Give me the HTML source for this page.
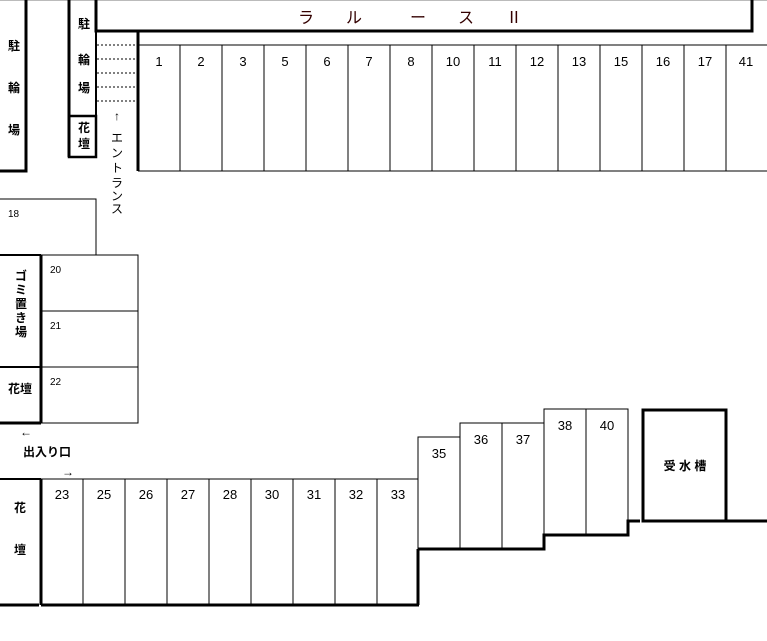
<!DOCTYPE html>
<html><head><meta charset="utf-8"><style>
body{margin:0;background:#fff}
svg{display:block}
text{font-family:"Liberation Sans","Noto Sans CJK JP",sans-serif;fill:#000}
.j{font-family:"Noto Sans CJK JP",sans-serif;font-weight:bold;fill:#300}
</style></head><body>
<svg width="767" height="641" viewBox="0 0 767 641" xmlns="http://www.w3.org/2000/svg">
<line x1="0" y1="0.5" x2="767" y2="0.5" stroke="#bbb"/>
<g stroke="#000" fill="none">
<!-- building bar -->
<path d="M96 0V31H752V0" stroke-width="3"/>
<!-- top stalls -->
<line x1="138" y1="31" x2="138" y2="171" stroke-width="3"/>
<line x1="138" y1="45" x2="767" y2="45"/>
<line x1="138" y1="171" x2="767" y2="171"/>
<g>
<line x1="180" y1="45" x2="180" y2="171"/><line x1="222" y1="45" x2="222" y2="171"/>
<line x1="264" y1="45" x2="264" y2="171"/><line x1="306" y1="45" x2="306" y2="171"/>
<line x1="348" y1="45" x2="348" y2="171"/><line x1="390" y1="45" x2="390" y2="171"/>
<line x1="432" y1="45" x2="432" y2="171"/><line x1="474" y1="45" x2="474" y2="171"/>
<line x1="516" y1="45" x2="516" y2="171"/><line x1="558" y1="45" x2="558" y2="171"/>
<line x1="600" y1="45" x2="600" y2="171"/><line x1="642" y1="45" x2="642" y2="171"/>
<line x1="684" y1="45" x2="684" y2="171"/><line x1="726" y1="45" x2="726" y2="171"/>
</g>
<!-- left bike parking -->
<path d="M26 0V171H0" stroke-width="3"/>
<!-- second bike parking -->
<line x1="69" y1="0" x2="69" y2="157" stroke-width="3"/>
<line x1="96" y1="31" x2="96" y2="115" stroke-width="2"/>
<rect x="69" y="116" width="27" height="41" stroke-width="2.5"/>
<g stroke-dasharray="2,2">
<line x1="97" y1="45" x2="136" y2="45"/><line x1="97" y1="59" x2="136" y2="59"/>
<line x1="97" y1="73" x2="136" y2="73"/><line x1="97" y1="87" x2="136" y2="87"/>
<line x1="97" y1="101" x2="136" y2="101"/>
</g>
<!-- 18 -->
<path d="M0 199H96V255"/>
<!-- 20-22 -->
<rect x="41" y="255" width="97" height="168"/>
<line x1="41" y1="311" x2="138" y2="311"/><line x1="41" y1="367" x2="138" y2="367"/>
<line x1="41" y1="255" x2="41" y2="423" stroke-width="3"/>
<line x1="0" y1="255" x2="41" y2="255" stroke-width="2"/>
<line x1="0" y1="367" x2="41" y2="367" stroke-width="2"/>
<line x1="0" y1="423" x2="41" y2="423" stroke-width="3"/>
<!-- bottom row -->
<line x1="0" y1="479" x2="41" y2="479" stroke-width="2"/>
<line x1="41" y1="479" x2="418" y2="479"/>
<line x1="41" y1="479" x2="41" y2="605" stroke-width="3"/>
<line x1="0" y1="605" x2="39" y2="605" stroke-width="3"/>
<line x1="41" y1="605" x2="419" y2="605" stroke-width="3"/>
<line x1="83" y1="479" x2="83" y2="605"/><line x1="125" y1="479" x2="125" y2="605"/>
<line x1="167" y1="479" x2="167" y2="605"/><line x1="209" y1="479" x2="209" y2="605"/>
<line x1="251" y1="479" x2="251" y2="605"/><line x1="293" y1="479" x2="293" y2="605"/>
<line x1="335" y1="479" x2="335" y2="605"/><line x1="377" y1="479" x2="377" y2="605"/>
<line x1="418" y1="549" x2="418" y2="605" stroke-width="3"/>
<!-- stepped stalls -->
<path d="M418 549V437H460V423H544V409H628V521"/>
<line x1="460" y1="437" x2="460" y2="549"/><line x1="502" y1="423" x2="502" y2="549"/>
<line x1="544" y1="423" x2="544" y2="535"/><line x1="586" y1="409" x2="586" y2="535"/>
<path d="M418 549H544V535H628V521H640" stroke-width="3"/>
<rect x="643" y="410" width="83" height="111" stroke-width="3"/>
<line x1="726" y1="521" x2="767" y2="521" stroke-width="3"/>
</g>
<text class="j" x="410" y="23" font-size="16" text-anchor="middle" style="font-weight:normal">ラ　　ル　　　ー　　ス　　Ⅱ</text>
<g font-size="13" text-anchor="middle">
<text x="159" y="66">1</text><text x="201" y="66">2</text><text x="243" y="66">3</text>
<text x="285" y="66">5</text><text x="327" y="66">6</text><text x="369" y="66">7</text>
<text x="411" y="66">8</text><text x="453" y="66">10</text><text x="495" y="66">11</text>
<text x="537" y="66">12</text><text x="579" y="66">13</text><text x="621" y="66">15</text>
<text x="663" y="66">16</text><text x="705" y="66">17</text><text x="746" y="66">41</text>
<text x="62" y="499">23</text><text x="104" y="499">25</text><text x="146" y="499">26</text>
<text x="188" y="499">27</text><text x="230" y="499">28</text><text x="272" y="499">30</text>
<text x="314" y="499">31</text><text x="356" y="499">32</text><text x="398" y="499">33</text>
<text x="439" y="458">35</text><text x="481" y="444">36</text><text x="523" y="444">37</text>
<text x="565" y="430">38</text><text x="607" y="430">40</text>
</g>
<g font-size="10">
<text x="8" y="217">18</text><text x="50" y="273">20</text>
<text x="50" y="329">21</text><text x="50" y="385">22</text>
</g>
<g class="j" font-size="12" text-anchor="middle">
<text x="14" y="50">駐</text><text x="14" y="92">輪</text><text x="14" y="134">場</text>
<text x="84" y="28">駐</text><text x="84" y="64">輪</text><text x="84" y="92">場</text>
<text x="84" y="132">花</text><text x="84" y="148">壇</text>
<text x="21" y="280">ゴ</text><text x="21" y="294">ミ</text><text x="21" y="308">置</text>
<text x="21" y="322">き</text><text x="21" y="336">場</text>
<text x="20" y="393">花壇</text>
<text x="47" y="456">出入り口</text>
<text x="20" y="512">花</text><text x="20" y="554">壇</text>
<text x="685" y="470">受 水 槽</text>
</g>
<g font-size="12" text-anchor="middle">
<text x="117" y="120">↑</text>
<text x="117" y="142">エ</text><text x="117" y="157">ン</text><text x="117" y="172">ト</text>
<text x="117" y="187">ラ</text><text x="117" y="200">ン</text><text x="117" y="213">ス</text>
<text x="26" y="436">←</text><text x="68" y="476">→</text>
</g>
</svg>
</body></html>
